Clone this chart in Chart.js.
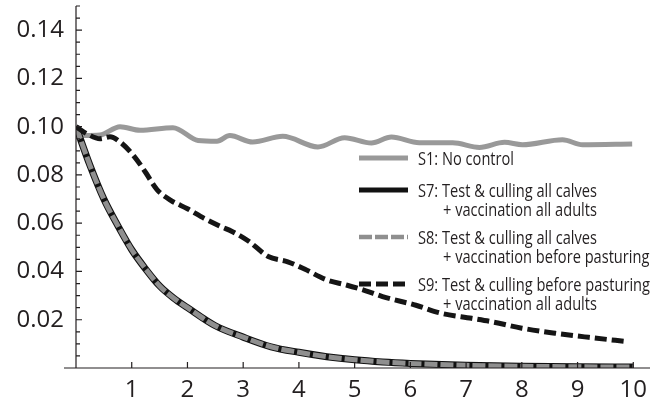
<!DOCTYPE html>
<html>
<head>
<meta charset="utf-8">
<script src="https://cdn.jsdelivr.net/npm/chart.js@4.4.1/dist/chart.umd.min.js"></script>
<style>
  html, body { margin: 0; padding: 0; background: #fff; }
  #wrap { width: 671px; height: 401px; }
</style>
</head>
<body>
<div id="wrap"><canvas id="c" width="671" height="401"></canvas></div>
<script>
// ---- Data ----
const s1X = [0, 0.16, 0.43, 0.79, 1.15, 1.74, 2.19, 2.53, 2.76, 3.17, 3.71, 4.34, 4.82, 5.30, 5.66, 6.16, 6.76, 7.24, 7.69, 8.01, 8.73, 9.09, 9.98];
const s1Y = [0.100, 0.0963, 0.0965, 0.1000, 0.0985, 0.0996, 0.0943, 0.0940, 0.0963, 0.0936, 0.0960, 0.0916, 0.0954, 0.0932, 0.0957, 0.0933, 0.0933, 0.0914, 0.0935, 0.0925, 0.0946, 0.0925, 0.0928];

const s7X = [0, 0.25, 0.5, 0.75, 1, 1.25, 1.5, 1.75, 2, 2.5, 3, 3.5, 4, 4.5, 5, 5.5, 6, 7, 8, 9, 10];
const s7Y = [0.100, 0.084, 0.070, 0.059, 0.049, 0.041, 0.034, 0.029, 0.025, 0.0175, 0.0128, 0.0088, 0.0065, 0.0047, 0.0034, 0.0025, 0.0019, 0.0011, 0.0007, 0.0005, 0.0004];

const s8X = [0, 0.25, 0.5, 0.75, 1, 1.25, 1.5, 1.75, 2, 2.5, 3, 3.5, 4, 4.5, 5, 5.5, 6, 7, 8, 9, 10];
const s8Y = [0.100, 0.084, 0.070, 0.059, 0.049, 0.041, 0.034, 0.029, 0.025, 0.0175, 0.0128, 0.0088, 0.0065, 0.0047, 0.0034, 0.0025, 0.0019, 0.0011, 0.0007, 0.0005, 0.0004];

const s9X = [0, 0.2, 0.43, 0.61, 0.8, 1.05, 1.25, 1.45, 1.7, 2.0, 2.3, 2.6, 2.8, 3.1, 3.45, 3.8, 4.1, 4.5, 4.85, 5.2, 5.5, 6.1, 6.55, 7.1, 7.5, 8.0, 8.6, 9.2, 9.9];
const s9Y = [0.100, 0.0970, 0.0950, 0.0958, 0.0935, 0.0875, 0.0810, 0.0740, 0.0695, 0.0660, 0.0620, 0.0586, 0.0566, 0.0525, 0.0462, 0.0440, 0.0410, 0.0365, 0.0344, 0.0320, 0.0296, 0.0260, 0.0227, 0.0206, 0.0190, 0.0165, 0.0144, 0.0127, 0.0109];

const xTickValues = [1, 2, 3, 4, 5, 6, 7, 8, 9, 10];
const yTickValues = [0.02, 0.04, 0.06, 0.08, 0.10, 0.12, 0.14];
const yTickLabels = ['0.02', '0.04', '0.06', '0.08', '0.10', '0.12', '0.14'];
const yMinorStep = 0.005;

const legendLines = [
  ['S1: No control'],
  ['S7: Test & culling all calves', '+ vaccination all adults'],
  ['S8: Test & culling all calves', '+ vaccination before pasturing'],
  ['S9: Test & culling before pasturing', '+ vaccination all adults']
];

// ---- Build ----
const toPts = (xs, ys) => xs.map((x, i) => ({ x: x, y: ys[i] }));
const TEXT = '#231f20';
const FONT = '"Open Sans", "Noto Sans", sans-serif';

const datasets = [
  { label: legendLines[0][0], data: toPts(s1X, s1Y), borderColor: '#999999', borderWidth: 5, borderDash: [], legendWidth: 5, order: 4 },
  { label: legendLines[1][0], data: toPts(s7X, s7Y), borderColor: '#111111', borderWidth: 7, borderDash: [], legendWidth: 5, order: 3 },
  { label: legendLines[2][0], data: toPts(s8X, s8Y), borderColor: '#8f8f8f', borderWidth: 5, borderDash: [13, 3], legendWidth: 4.5, order: 2 },
  { label: legendLines[3][0], data: toPts(s9X, s9Y), borderColor: '#151515', borderWidth: 5, borderDash: [12, 5], legendWidth: 5, order: 1 }
].map(d => Object.assign(d, { pointRadius: 0, fill: false, cubicInterpolationMode: 'monotone', borderCapStyle: 'butt', borderJoinStyle: 'round' }));

const axesPlugin = {
  id: 'axesPlugin',
  afterDatasetsDraw(chart) {
    const ctx = chart.ctx;
    const xs = chart.scales.x, ys = chart.scales.y;
    const x0 = xs.getPixelForValue(0);
    const y0 = ys.getPixelForValue(0);
    const top = ys.getPixelForValue(0.15);
    ctx.save();
    ctx.strokeStyle = TEXT;
    ctx.lineWidth = 1.2;
    ctx.beginPath();
    ctx.moveTo(x0 - 12, y0); ctx.lineTo(chart.chartArea.right, y0);
    ctx.moveTo(x0, y0); ctx.lineTo(x0, top);
    xTickValues.forEach(v => {
      const p = xs.getPixelForValue(v);
      ctx.moveTo(p, y0); ctx.lineTo(p, y0 - 6);
    });
    for (let k = 1; k * yMinorStep <= 0.15 + 1e-9; k++) {
      const v = k * yMinorStep;
      const p = ys.getPixelForValue(v);
      const major = (k % 4 === 0);
      ctx.moveTo(x0, p); ctx.lineTo(x0 + (major ? 6 : 4), p);
    }
    ctx.stroke();
    ctx.restore();
  }
};

const legendPlugin = {
  id: 'customLegend',
  afterDraw(chart) {
    const ctx = chart.ctx;
    const sampleX0 = 359, sampleX1 = 408, textX1 = 418, textX2 = 443;
    const baselines1 = [165, 197, 244, 291];
    const lineGap = 19;
    ctx.save();
    ctx.font = '18px ' + FONT;
    const targetW = 232;
    const sx = targetW / ctx.measureText(legendLines[3][0]).width;
    ctx.fillStyle = TEXT;
    ctx.textBaseline = 'alphabetic';
    chart.data.datasets.forEach((ds, i) => {
      const b = baselines1[i];
      const sy = b - 7;
      ctx.save();
      ctx.strokeStyle = ds.borderColor;
      ctx.lineWidth = ds.legendWidth;
      ctx.setLineDash(ds.borderDash || []);
      ctx.lineCap = 'butt';
      ctx.beginPath();
      ctx.moveTo(sampleX0, sy); ctx.lineTo(sampleX1, sy);
      ctx.stroke();
      ctx.restore();
      const lines = legendLines[i];
      ctx.save(); ctx.translate(textX1, b); ctx.scale(sx, 1); ctx.fillText(lines[0], 0, 0); ctx.restore();
      if (lines[1]) { ctx.save(); ctx.translate(textX2, b + lineGap); ctx.scale(sx, 1); ctx.fillText(lines[1], 0, 0); ctx.restore(); }
    });
    ctx.restore();
  }
};

new Chart(document.getElementById('c'), {
  type: 'line',
  data: { datasets: datasets },
  options: {
    responsive: false,
    devicePixelRatio: 1,
    animation: false,
    layout: { padding: { left: 0, right: 21, top: 6, bottom: 0 } },
    plugins: { legend: { display: false }, tooltip: { enabled: false } },
    scales: {
      x: {
        type: 'linear', min: 0, max: 10.3,
        grid: { display: false, drawTicks: false }, border: { display: false },
        afterBuildTicks: s => { s.ticks = xTickValues.map(v => ({ value: v })); },
        ticks: { color: TEXT, font: { family: FONT, size: 24 }, padding: 8, maxRotation: 0, autoSkip: false,
                 callback: v => String(v) },
        afterFit: s => { s.height = 33; s.paddingLeft = 0; s.paddingRight = 0; }
      },
      y: {
        type: 'linear', min: 0, max: 0.15,
        grid: { display: false, drawTicks: false }, border: { display: false },
        afterBuildTicks: s => { s.ticks = yTickValues.map(v => ({ value: v })); },
        ticks: { color: TEXT, font: { family: FONT, size: 24 }, padding: 12, autoSkip: false,
                 callback: (v) => { const i = yTickValues.findIndex(t => Math.abs(t - v) < 1e-9); return i >= 0 ? yTickLabels[i] : ''; } },
        afterFit: s => { s.width = 76; s.paddingTop = 0; s.paddingBottom = 0; }
      }
    }
  },
  plugins: [axesPlugin, legendPlugin]
});
</script>
</body>
</html>
